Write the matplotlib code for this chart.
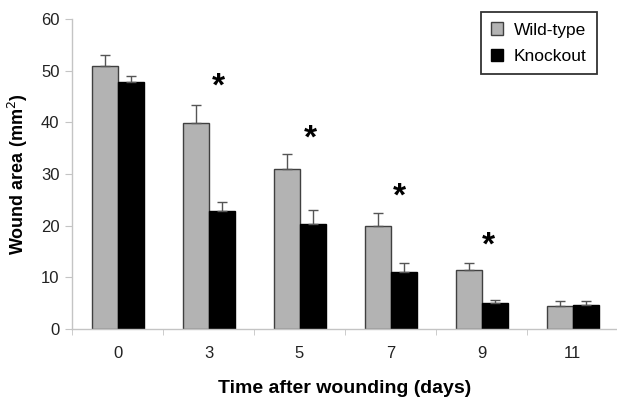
import numpy as np
import matplotlib
matplotlib.use("Agg")
import matplotlib.pyplot as plt

# --- data -------------------------------------------------------------------
days = ["0", "3", "5", "7", "9", "11"]
wild_type = [51.0, 39.8, 31.0, 19.9, 11.4, 4.4]
wild_type_err = [2.0, 3.5, 2.9, 2.5, 1.4, 1.0]
knockout = [47.8, 22.8, 20.3, 11.0, 5.0, 4.6]
knockout_err = [1.2, 1.7, 2.7, 1.8, 0.6, 0.8]
star_x = [1.11, 2.12, 3.10, 4.08]
star_y = [46.8, 36.7, 25.5, 16.1]

plt.rcParams["font.family"] = ["Liberation Sans", "DejaVu Sans"]

fig = plt.figure(figsize=(6.17, 4.01), dpi=100)
ax = fig.add_axes([72 / 617, 1 - 329 / 401, 546 / 617, 310 / 401])

x = np.arange(len(days))
w = 26 / 91
axis_grey = "#c4c4c4"
err_kw = dict(ecolor="#555555", elinewidth=1.0, capsize=3.5, capthick=1.0)

ax.bar(x - w / 2, wild_type, w, color="#b3b3b3", edgecolor="#404040", linewidth=1.0,
       yerr=[np.zeros(len(days)), wild_type_err], error_kw=err_kw, label="Wild-type", zorder=2)
ax.bar(x + w / 2, knockout, w, color="black", edgecolor="black", linewidth=1.0,
       yerr=[np.zeros(len(days)), knockout_err], error_kw=err_kw, label="Knockout", zorder=2)

for sx, sy in zip(star_x, star_y):
    ax.text(sx, sy, "*", fontsize=24, fontweight="bold", ha="center", va="center")

ax.set_xlim(-0.5, 5.5)
ax.set_ylim(0, 60)
ax.set_yticks(range(0, 61, 10))
ax.set_xticks(x)
ax.set_xticklabels(days)
ax.set_xticks(np.arange(-0.5, 5.6, 1), minor=True)
ax.tick_params(axis="x", which="major", length=0, pad=12, labelsize=12, labelcolor="#222222")
ax.tick_params(axis="x", which="minor", length=4, color=axis_grey, direction="out")
ax.tick_params(axis="y", length=5, color=axis_grey, labelsize=12, labelcolor="#222222", pad=4)

for s in ["top", "right"]:
    ax.spines[s].set_visible(False)
for s in ["left", "bottom"]:
    ax.spines[s].set_color(axis_grey)
    ax.spines[s].set_linewidth(1.0)

ax.set_ylabel("Wound area (mm$^2$)", fontsize=13, fontweight="bold", labelpad=8)
ax.set_xlabel("Time after wounding (days)", fontsize=14, fontweight="bold", labelpad=14)

leg = ax.legend(loc="upper right", bbox_to_anchor=(597 / 617, 1 - 12 / 401),
                bbox_transform=fig.transFigure, borderaxespad=0, fancybox=False,
                edgecolor="black", fontsize=12.5, handlelength=0.7, handleheight=0.7,
                handletextpad=0.6, labelspacing=0.65, borderpad=0.6)
leg.get_frame().set_linewidth(1.3)

fig.savefig("out.png", dpi=100, facecolor="white")
